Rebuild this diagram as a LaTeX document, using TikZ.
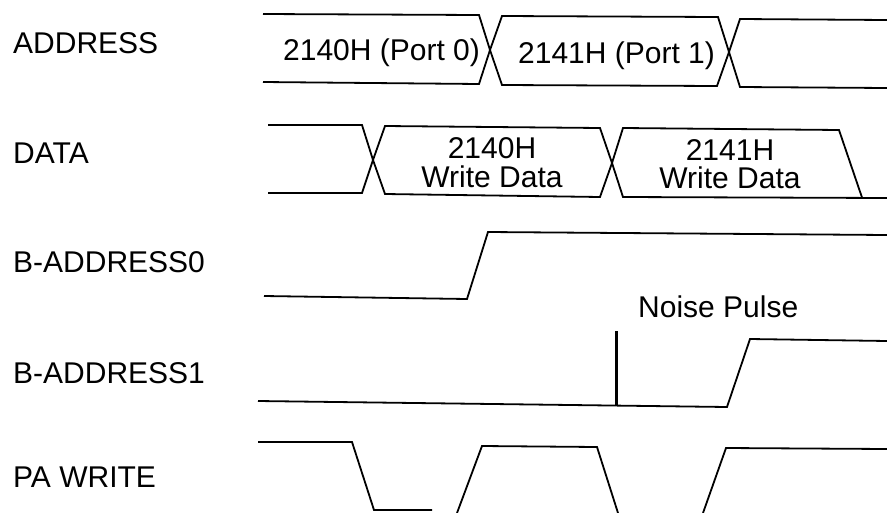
\documentclass[tikz,border=0pt]{standalone}
\usepackage{fontspec}
\setmainfont{Liberation Sans}
\begin{document}
\begin{tikzpicture}[x=1pt,y=-1pt,
  wave/.style={line width=1.8pt, line join=miter},
  spike/.style={line width=3pt},
  lbl/.style={anchor=base west, inner sep=0pt, font=\fontsize{30}{30}\selectfont},
  dtxt/.style={anchor=base, inner sep=0pt, font=\fontsize{30}{30}\selectfont}]
\useasboundingbox (0,0) rectangle (887,512);
% signal names
\node[lbl] (lAddr) at (13,53) {ADDRESS};
\node[lbl] (lData) at (13,163) {DATA};
\node[lbl] (lB0) at (13,272) {B-ADDRESS0};
\node[lbl] (lB1) at (13,383) {B-ADDRESS1};
\node[lbl] (lPA) at (13,487) {PA WRITE};
% ADDRESS
\draw[wave] (263,14) -- (479,15) -- (490,50) -- (479,84) -- (263,82);
\draw[wave] (502,16) -- (718,17) -- (729,52) -- (717,86) -- (502,85) -- (490,50) -- cycle;
\draw[wave] (887,20) -- (740,19) -- (729,52) -- (740,87) -- (887,88);
\node[lbl] (a0) at (283,60) {2140H (Port 0)};
\node[lbl] (a1) at (518,63) {2141H (Port 1)};
% DATA
\draw[wave] (268,125) -- (362,125) -- (373,160) -- (362,193) -- (268,193);
\draw[wave] (385,126) -- (600,128) -- (612,163) -- (600,197) -- (385,194) -- (373,160) -- cycle;
\draw[wave] (887,198) -- (623,197) -- (612,163) -- (623,128) -- (839,130) -- (862,197.5);
\node[dtxt] (d0a) at (492,158) {2140H};
\node[dtxt] (d0b) at (492,187) {Write Data};
\node[dtxt] (d1a) at (730,160) {2141H};
\node[dtxt] (d1b) at (730,188) {Write Data};
% B-ADDRESS0
\draw[wave] (264,296) -- (467,299) -- (488,232) -- (887,235);
% B-ADDRESS1
\draw[wave] (258,401) -- (727,407) -- (750,339) -- (887,341);
\draw[spike] (616,331) -- (616,405);
\node[lbl] (np) at (638,317) {Noise Pulse};
% PA WRITE
\draw[wave] (258,442) -- (352,442) -- (374,510) -- (432,510);
\draw[wave] (457,513) -- (482,446) -- (597,447) -- (618,513);
\draw[wave] (703,513) -- (726,448) -- (887,449);
\end{tikzpicture}
\end{document}
